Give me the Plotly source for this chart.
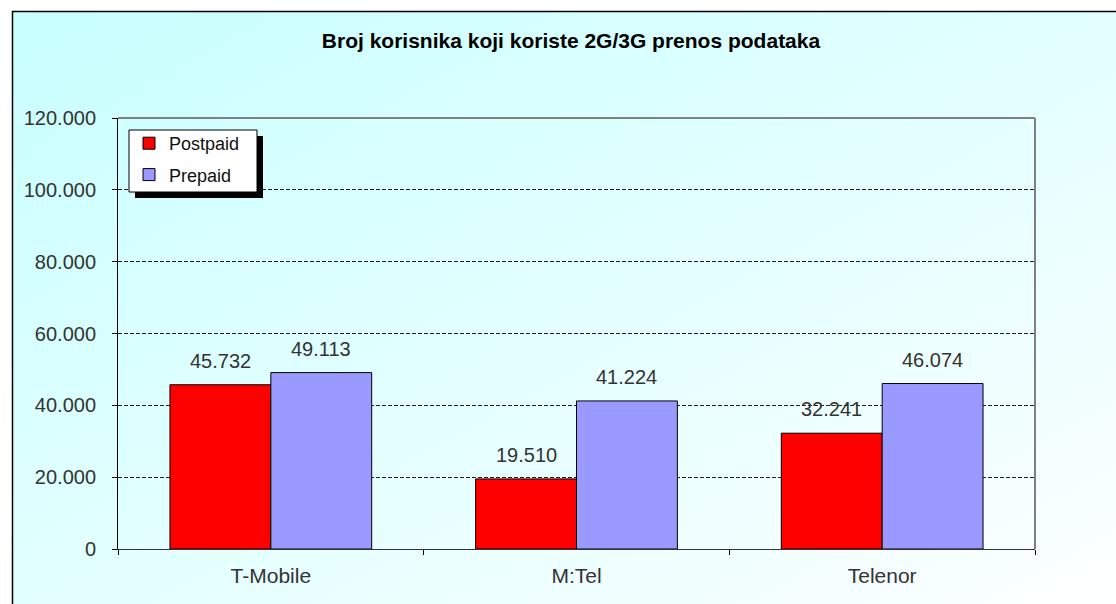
import base64
import plotly.graph_objects as go

categories = ["T-Mobile", "M:Tel", "Telenor"]
postpaid = [45732, 19510, 32241]
prepaid = [49113, 41224, 46074]
y_ticks = [0, 20000, 40000, 60000, 80000, 100000, 120000]

W, H = 1116, 604
L, R, T, B = 118, 81, 118, 55
PW, PH = W - L - R, H - T - B
BARGAP = 0.34
BAR_PX = PW / len(categories) * (1 - BARGAP) / 2

def px_x(p):
    return (p - L) / PW

def px_y(p):
    return 1 - (p - T) / PH

FONT = "Arial, Liberation Sans, sans-serif"
TXT = "#333333"

svg = f"""<svg xmlns='http://www.w3.org/2000/svg' width='{W}' height='{H}' viewBox='0 0 {W} {H}'>
<defs><linearGradient id='g' x1='0' y1='0' x2='1' y2='1'>
<stop offset='0' stop-color='#C8FFFF'/><stop offset='1' stop-color='#FFFFFF'/></linearGradient></defs>
<rect x='0' y='0' width='{W}' height='{H}' fill='#FFFFFF'/>
<rect x='12.5' y='11.5' width='{W+20}' height='{H+20}' fill='url(#g)' stroke='#000000' stroke-width='1.5'/>
</svg>"""
svg_uri = "data:image/svg+xml;base64," + base64.b64encode(svg.encode()).decode()

fig = go.Figure()
fig.add_trace(go.Bar(
    name="Postpaid", x=categories, y=postpaid,
    marker=dict(color="#FF0000", line=dict(color="#000000", width=1)),
    legendgroup="a",
))
fig.add_trace(go.Bar(
    name="Prepaid", x=categories, y=prepaid,
    marker=dict(color="#9999FF", line=dict(color="#000000", width=1)),
    legendgroup="b",
))

annotations = []
for series, shift in ((postpaid, -BAR_PX / 2), (prepaid, BAR_PX / 2)):
    for cat, val in zip(categories, series):
        annotations.append(dict(
            x=cat, y=val, xref="x", yref="y",
            text=f"{val:,d}".replace(",", "."),
            showarrow=False, xanchor="center", yanchor="bottom",
            xshift=shift, yshift=11,
            font=dict(family=FONT, size=20, color=TXT),
        ))

fig.update_layout(
    width=W, height=H,
    margin=dict(l=L, r=R, t=T, b=B),
    paper_bgcolor="#FFFFFF",
    plot_bgcolor="rgba(0,0,0,0)",
    separators=",.",
    barmode="group",
    bargap=BARGAP,
    bargroupgap=0,
    font=dict(family=FONT, size=20, color=TXT),
    title=dict(
        text="<b>Broj korisnika koji koriste 2G/3G prenos podataka</b>",
        x=571 / W, xref="container", xanchor="center",
        y=1 - 41 / H, yref="container", yanchor="middle",
        font=dict(family=FONT, size=21, color="#000000"),
    ),
    legend=dict(
        x=px_x(129), y=px_y(125), xanchor="left", yanchor="top",
        bgcolor="rgba(0,0,0,0)", borderwidth=0,
        font=dict(family=FONT, size=18, color="#111111"),
        tracegroupgap=5, itemwidth=30,
    ),
    annotations=annotations,
    images=[dict(
        source=svg_uri, xref="paper", yref="paper",
        x=-L / PW, y=1 + T / PH, sizex=W / PW, sizey=H / PH,
        xanchor="left", yanchor="top", sizing="stretch", layer="below",
    )],
    shapes=[
        dict(type="line", xref="paper", yref="paper", x0=0, x1=1, y0=1, y1=1,
             line=dict(color="#808080", width=2), layer="above"),
        dict(type="line", xref="paper", yref="paper", x0=1, x1=1, y0=0, y1=1,
             line=dict(color="#808080", width=2), layer="above"),
        # legend shadow and box
        dict(type="rect", xref="paper", yref="paper",
             x0=px_x(135), x1=px_x(263), y0=px_y(198), y1=px_y(136),
             fillcolor="#000000", line=dict(width=0), layer="above"),
        dict(type="rect", xref="paper", yref="paper",
             x0=px_x(129), x1=px_x(257), y0=px_y(192), y1=px_y(130),
             fillcolor="#FFFFFF", line=dict(color="#000000", width=1), layer="above"),
    ],
)

fig.update_yaxes(
    range=[0, 120000], tickvals=y_ticks, tickformat=",d",
    showgrid=True, gridcolor="#222222", gridwidth=1, griddash="4px,2px",
    showline=True, linecolor="#000000", linewidth=1,
    ticks="outside", ticklen=5, tickcolor="#000000",
    ticklabelstandoff=12, zeroline=False,
    tickfont=dict(family=FONT, size=20, color=TXT),
)
fig.update_xaxes(
    showline=True, linecolor="#333333", linewidth=1,
    ticks="outside", ticklen=5, tickcolor="#000000", tickson="boundaries",
    ticklabelstandoff=8,
    tickfont=dict(family=FONT, size=21, color=TXT),
)

fig.write_html("out.html", config={"displayModeBar": False},
               post_script="document.body.style.margin='0px';")
